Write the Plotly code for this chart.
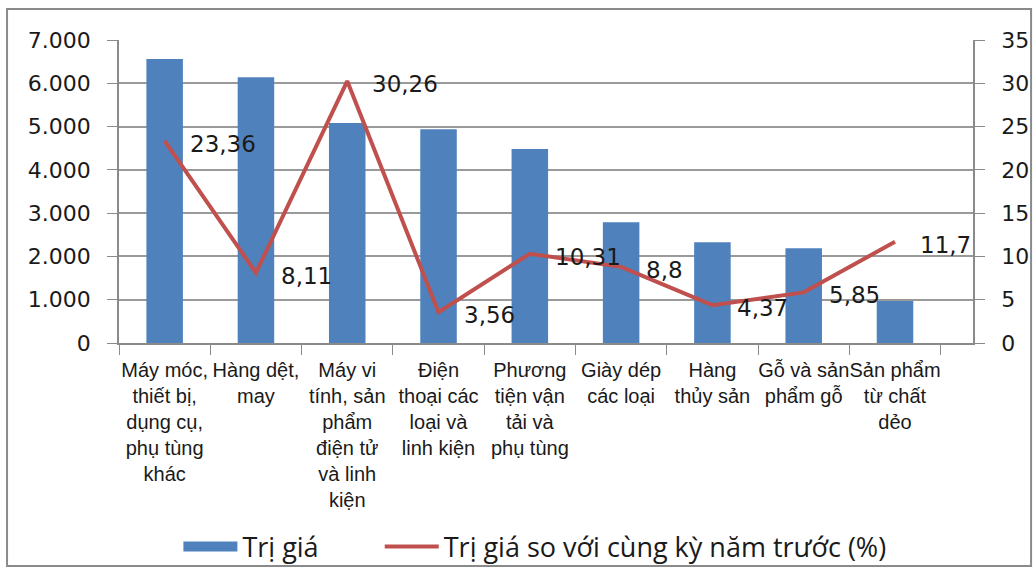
import plotly.graph_objects as go

categories = [
    "Máy móc,<br>thiết bị,<br>dụng cụ,<br>phụ tùng<br>khác",
    "Hàng dệt,<br>may",
    "Máy vi<br>tính, sản<br>phẩm<br>điện tử<br>và linh<br>kiện",
    "Điện<br>thoại các<br>loại và<br>linh kiện",
    "Phương<br>tiện vận<br>tải và<br>phụ tùng",
    "Giày dép<br>các loại",
    "Hàng<br>thủy sản",
    "Gỗ và sản<br>phẩm gỗ",
    "Sản phẩm<br>từ chất<br>dẻo",
]
tri_gia = [6560, 6140, 5080, 4940, 4480, 2790, 2330, 2190, 970]
tang_truong = [23.36, 8.11, 30.26, 3.56, 10.31, 8.8, 4.37, 5.85, 11.7]
tang_truong_labels = ["23,36", "8,11", "30,26", "3,56", "10,31", "8,8", "4,37", "5,85", "11,7"]

BLUE = "#4F81BD"
RED = "#C0504D"
num_font = "DejaVu Sans"
txt_font = "Liberation Sans"
leg_font = "Open Sans"

fig = go.Figure()
fig.add_trace(go.Bar(
    x=categories, y=tri_gia, name="Trị giá",
    marker=dict(color=BLUE, line=dict(width=0)),
    yaxis="y", showlegend=False,
))
fig.add_trace(go.Scatter(
    x=categories, y=tang_truong, name="Trị giá so với cùng kỳ năm trước (%)",
    mode="lines",
    line=dict(color=RED, width=4),
    yaxis="y2", showlegend=False,
))
# legend entries
fig.add_trace(go.Scatter(x=[None], y=[None], mode="lines",
                         name="Trị giá" + "\u00a0" * 8,
                         line=dict(color=BLUE, width=13), yaxis="y"))
fig.add_trace(go.Scatter(x=[None], y=[None], mode="lines",
                         name="Trị giá so với cùng kỳ năm trước (%)",
                         line=dict(color=RED, width=4), yaxis="y2"))

annotations = []
for cat, val, lab in zip(categories, tang_truong, tang_truong_labels):
    annotations.append(dict(
        x=cat, y=val, xref="x", yref="y2", text=lab, showarrow=False,
        xanchor="left", yanchor="middle", xshift=23, yshift=-3,
        font=dict(family=num_font, size=23, color="#1a1a1a"),
    ))

fig.update_layout(
    width=1036, height=583,
    margin=dict(l=119, r=63, t=40, b=240),
    paper_bgcolor="white", plot_bgcolor="white",
    separators=",.",
    bargap=0.6,
    showlegend=True,
    legend=dict(orientation="h", x=0.487, xanchor="center", y=-0.673, yanchor="middle",
                font=dict(family=leg_font, size=27, color="#1a1a1a"),
                bgcolor="rgba(0,0,0,0)", itemwidth=54, traceorder="normal"),
    annotations=annotations,
    xaxis=dict(
        type="category", automargin=False,
        tickfont=dict(family=txt_font, size=20, color="#1a1a1a"),
        tickangle=0, ticklabelstandoff=8,
        showline=True, linecolor="#8a8a8a", linewidth=1.5,
        ticks="outside", tickson="boundaries", ticklen=10, tickcolor="#8a8a8a",
        showgrid=False,
    ),
    yaxis=dict(
        range=[0, 7000], dtick=1000, tickformat=",.0f", automargin=False,
        tickfont=dict(family=num_font, size=22, color="#1a1a1a"),
        ticklabelstandoff=12,
        showgrid=True, gridcolor="#9a9a9a", gridwidth=1.5,
        showline=True, linecolor="#8a8a8a", linewidth=1.5,
        ticks="outside", ticklen=10, tickcolor="#8a8a8a",
        zeroline=False,
    ),
    yaxis2=dict(
        range=[0, 35], dtick=5, overlaying="y", side="right", automargin=False,
        tickfont=dict(family=num_font, size=22, color="#1a1a1a"),
        ticklabelstandoff=12,
        showgrid=False,
        showline=True, linecolor="#8a8a8a", linewidth=1.5,
        ticks="outside", ticklen=10, tickcolor="#8a8a8a",
        zeroline=False,
    ),
    shapes=[dict(type="rect", xref="paper", yref="paper",
                 x0=-0.1311, x1=1.068, y0=-0.736, y1=1.102,
                 line=dict(color="#8a8a8a", width=2), layer="below")],
)

fig.write_html("out.html", config={"displayModeBar": False},
               post_script="document.body.style.margin='0';")
